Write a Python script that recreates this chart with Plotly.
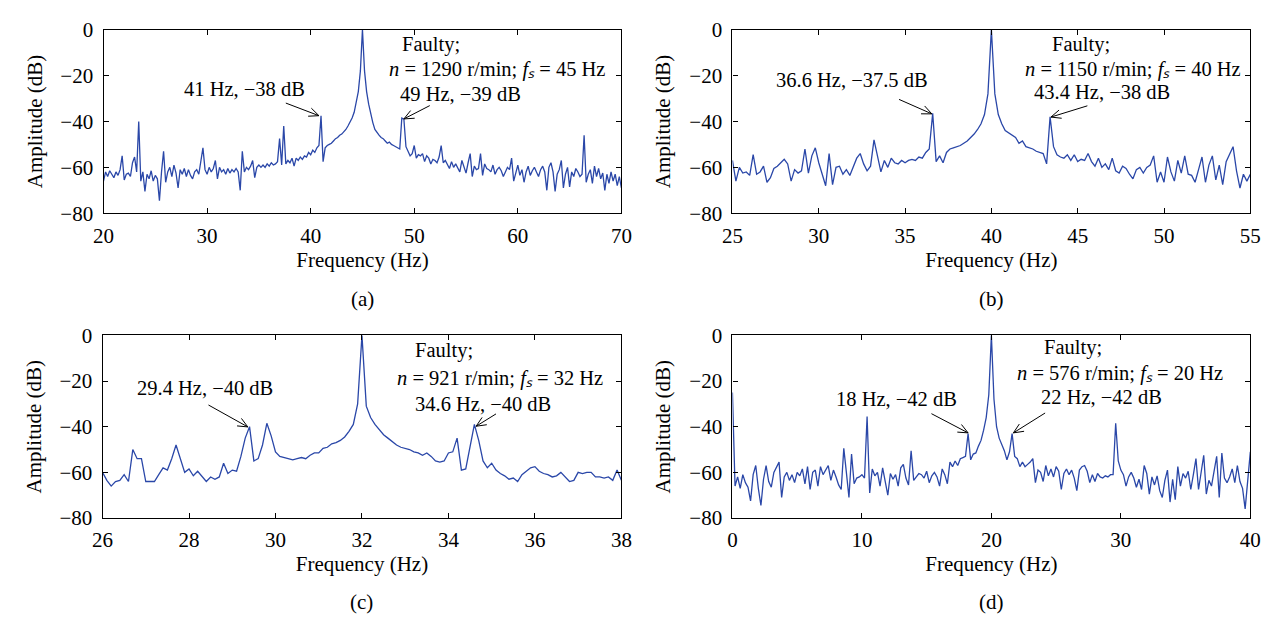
import math
import plotly.graph_objects as go

FONT = "Liberation Serif"
LINE_COLOR = "#2a47a8"
W, H = 1272, 623

# ---------------- data ----------------
# (a) fs = 45 Hz, bins from 20 Hz every 0.2 Hz
a_f0, a_df = 20.0, 0.2
a_amp = [
    -66, -62, -64, -61.5, -63, -64.5, -62, -63.5, -61, -55,
    -65.5, -63, -62.5, -64, -58, -55.5, -62, -40, -66, -62,
    -70.5, -63, -65, -61.5, -66, -63.5, -65, -74.5, -62, -53,
    -66.5, -62, -60, -64, -59, -62.5, -69, -61, -63, -60.5,
    -64, -61, -63.5, -65, -62, -61, -63, -58, -51.5, -61,
    -63, -60, -62, -60.5, -57, -65, -60, -62, -61, -63,
    -60.5, -62.5, -61, -62, -60.5, -62, -70, -53, -62, -60,
    -61, -59.5, -57, -64.5, -60, -59, -60, -59, -60, -58.5,
    -59.5, -58, -59, -58.5, -57.5, -47.5, -59, -42, -58.5, -57,
    -58, -56, -59.5, -56, -57, -55.5, -56.5, -55, -55.5, -53.5,
    -54.5, -52.5, -53.5, -51.5, -50.5, -37.5, -57.5, -51.5, -50.5, -50,
    -49.5, -48.5, -47.5, -47, -46, -45.5, -44.5, -43.5, -42, -40.5,
    -38.5, -36, -32, -27, -18, 0, -18, -27, -32.5, -37,
    -40.5, -43.5, -45, -46, -47, -47.5, -48.5, -49.5, -49, -50,
    -50.5, -51, -51.5, -52, -38.5, -39, -51, -53, -55, -54,
    -50.5, -56, -54.5, -55, -54, -57.5, -55, -56, -58.5, -56.5,
    -57, -58, -55.5, -50.5, -58, -57, -59, -60.5, -57.5, -60,
    -58.5, -60, -62, -57, -60, -62.5, -58, -54, -64, -59.5,
    -61, -60.5, -54, -63.5, -58.5, -60.5, -61, -62, -59, -63,
    -61, -60, -61.5, -64, -62, -60, -61, -56, -66, -62,
    -59, -63.5, -61, -66.5, -62, -59.5, -63.5, -61.5, -60, -62,
    -64, -61, -59.5, -62, -70, -60, -58, -62, -70.5, -63,
    -61, -57, -69, -63, -60, -68.5, -62, -64, -60.5, -62,
    -64, -63, -46, -66.5, -63, -61, -67, -59.5, -64, -60.5,
    -65, -62.5, -70, -63, -67, -62, -66, -63, -68, -64,
    -69,
]

# (b) fs = 40 Hz, bins from 25 Hz every 0.2 Hz
b_f0, b_df = 25.0, 0.2
b_amp = [
    -57, -66, -60, -62.5, -62, -63.5, -54.5, -63, -62, -59.5,
    -66.5, -64.5, -60.5, -59.5, -58, -56.5, -58.5, -66, -61, -62.5,
    -61.5, -52, -62.5, -55, -51.5, -58, -63, -68, -54, -67.5,
    -60, -59.5, -63, -61, -63.5, -59.5, -56, -54, -58.5, -61.5,
    -59.5, -48, -55.5, -62, -57, -60, -56, -58, -58.5, -57,
    -58, -57, -56.5, -57, -55.5, -56, -53.5, -52, -36.5, -57.5,
    -55, -58, -53.5, -52, -51.5, -51, -50.5, -49.5, -48.5, -47,
    -45.5, -43.5, -41, -37, -28, 0, -28, -37, -41, -44,
    -45, -46, -47, -49.5, -48.5, -51, -51.5, -52, -53, -53.5,
    -54, -58.5, -38, -51, -54.5, -55.5, -56, -54.5, -57, -54.5,
    -57.5, -56.5, -57, -54, -57.5, -59.5, -56, -60, -58.5, -61,
    -56, -61.5, -62.5, -59.5, -60.5, -63, -65, -61, -60, -62.5,
    -60, -59, -55, -66.5, -62, -66.5, -55.5, -62, -66, -57,
    -62.5, -55, -63, -63.5, -66.5, -61, -55.5, -66.5, -59, -55,
    -65.5, -59, -67.5, -57.5, -54, -51, -61.5, -69, -63, -66,
    -63,
]

# (c) fs = 32 Hz, bins from 26 Hz every 0.1 Hz
c_f0, c_df = 26.0, 0.1
c_amp = [
    -60, -63.5, -66, -64, -63.5, -61, -64, -50, -54, -54,
    -64, -64, -64, -61, -58, -59, -54, -48, -54, -60,
    -58.5, -61.5, -59.5, -62, -64, -62, -63, -62, -56, -60.5,
    -59, -59.5, -53, -45, -40, -55, -54, -48, -38.5, -44,
    -51, -53, -53.5, -54, -54.5, -54, -53.5, -54, -52.5, -51.5,
    -51.5, -49.5, -49, -47.5, -47, -46, -44.5, -42, -39, -30,
    0, -31, -36, -39, -41.5, -43.5, -45, -46.5, -48, -49,
    -49.5, -50, -51, -51.5, -52.5, -51.5, -53, -55, -55.5, -55,
    -51.5, -51, -45, -59, -58.5, -48, -39, -46, -55, -58,
    -56, -59, -60.5, -61.5, -63, -62.5, -64, -61, -59.5, -58,
    -57.5, -59.5, -60.5, -61, -62, -61.5, -60, -62, -64, -63.5,
    -60, -60.5, -60, -60, -62, -62, -62.5, -62, -63.5, -59,
    -63.5,
]

# (d) fs = 20 Hz, bins from 0 Hz every 0.2 Hz
d_f0, d_df = 0.0, 0.2
d_amp = [
    -25, -66, -62, -67, -61, -64.5, -66.5, -72.5, -61, -57,
    -67, -74.5, -63, -57, -64, -66.5, -60, -57.5, -55.5, -71,
    -62, -60, -63.5, -61, -64.5, -60, -61.5, -58.5, -65, -57.5,
    -67.5, -60, -59, -66, -57.5, -61, -59, -57, -63.5, -59,
    -62, -65.5, -67.5, -49.5, -60, -71, -52, -65, -62.5, -62,
    -61, -62.5, -35.5, -69, -58.5, -61.5, -60, -66, -58, -63.5,
    -70, -60.5, -63, -61, -66, -58, -56.5, -62.5, -65.5, -50.5,
    -63.5, -62, -60.5, -61, -62.5, -59.5, -64.5, -61.5, -60, -62,
    -66, -58.5, -61, -65, -55.5, -57.5, -55, -57, -54, -53.5,
    -53, -43, -54.5, -52, -51.5, -48.5, -46, -41.5, -36, -26,
    0, -28, -40, -45, -48, -50.5, -54.5, -51, -43, -53,
    -54, -57.5, -55.5, -57.5, -56.5, -55.5, -54, -64.5, -59, -60,
    -64, -57, -61.5, -58.5, -62, -57.5, -59.5, -67.5, -60.5, -58.5,
    -61, -59, -62.5, -68, -59, -57.5, -57, -59.5, -64.5, -61,
    -64, -60.5, -62, -62.5, -61.5, -62, -61, -61, -38.5, -55,
    -59, -61, -66, -62, -60, -62.5, -66.5, -63, -67.5, -57,
    -60.5, -69.5, -62, -65.5, -61.5, -68, -71, -63.5, -59, -73,
    -63, -72, -57.5, -66, -60.5, -62.5, -59.5, -67.5, -61, -54,
    -67.5, -60.5, -52.5, -69.5, -63.5, -66, -59, -53, -71, -51.5,
    -62.5, -64.5, -62, -58.5, -64.5, -57, -64, -67, -76, -63,
    -51,
]

x_ticks_a = [20, 30, 40, 50, 60, 70]
x_ticks_b = [25, 30, 35, 40, 45, 50, 55]
x_ticks_c = [26, 28, 30, 32, 34, 36, 38]
x_ticks_d = [0, 10, 20, 30, 40]
y_ticks = [-80, -60, -40, -20, 0]
y_range = [-80, 0]
x_title = "Frequency (Hz)"
y_title = "Amplitude (dB)"

panels = [
    ("a", a_f0, a_df, a_amp, x_ticks_a, "(a)", "1290", "45"),
    ("b", b_f0, b_df, b_amp, x_ticks_b, "(b)", "1150", "40"),
    ("c", c_f0, c_df, c_amp, x_ticks_c, "(c)", "921", "32"),
    ("d", d_f0, d_df, d_amp, x_ticks_d, "(d)", "576", "20"),
]

# annotation texts: (text, x, y); None -> the operating-point line
notes = {
    "a": [("Faulty;", 51.6, -6.7), (None, 58.0, -17.5),
          ("41 Hz, \u221238 dB", 33.6, -25.9), ("49 Hz, \u221239 dB", 54.5, -28.2)],
    "b": [("Faulty;", 45.2, -6.4), (None, 48.2, -17.2),
          ("36.6 Hz, \u221237.5 dB", 31.9, -22.1), ("43.4 Hz, \u221238 dB", 46.4, -27.0)],
    "c": [("Faulty;", 33.9, -6.8), (None, 35.2, -18.8),
          ("29.4 Hz, \u221240 dB", 28.37, -23.1), ("34.6 Hz, \u221240 dB", 34.8, -29.9)],
    "d": [("Faulty;", 26.3, -5.3), (None, 29.9, -16.5),
          ("18 Hz, \u221242 dB", 12.7, -27.7), ("22 Hz, \u221242 dB", 28.5, -27.0)],
}
# arrows: (tail_x, tail_y, tip_x, tip_y) in data units
arrows = {
    "a": [(37.6, -32.0, 40.8, -37.5), (51.5, -33.1, 49.0, -38.9)],
    "b": [(34.65, -30.4, 36.55, -36.7), (45.56, -33.2, 43.45, -38.1)],
    "c": [(28.45, -30.5, 29.36, -40.1), (35.1, -34.4, 34.64, -39.8)],
    "d": [(15.37, -34.3, 18.2, -42.7), (24.15, -34.0, 21.7, -42.7)],
}

# ---------------- layout geometry (pixels) ----------------
boxes = {
    "a": (86, 613, 10, 201),
    "b": (726, 1253, 10, 201),
    "c": (85, 613, 328, 518),
    "d": (726, 1253, 328, 518),
}
label_y = {"a": 290, "b": 290, "c": 605, "d": 605}

TICK_SIZE = 21
TITLE_SIZE = 21
NOTE_SIZE = 20.5
HEAD_LEN = 11.0       # px
HEAD_HALF_ANGLE = 24  # degrees

fig = go.Figure()
layout = dict(
    width=W, height=H,
    margin=dict(l=0, r=0, t=0, b=0),
    paper_bgcolor="white", plot_bgcolor="white",
    showlegend=False,
    font=dict(family=FONT, size=TITLE_SIZE, color="black"),
)
annotations = []
shapes = []

for idx, (key, f0, df, amp, ticks, plabel, speed, fs) in enumerate(panels, start=1):
    xs = [round(f0 + df * i, 4) for i in range(len(amp))]
    sfx = "" if idx == 1 else str(idx)
    xa, ya = "x" + sfx, "y" + sfx
    fig.add_trace(go.Scatter(x=xs, y=amp, mode="lines", xaxis=xa, yaxis=ya,
                             line=dict(color=LINE_COLOR, width=1.3),
                             hoverinfo="skip"))
    l, r, t, b = boxes[key]
    common = dict(showline=True, linecolor="black", linewidth=1.2, mirror="ticks",
                  ticks="inside", ticklen=5, tickwidth=1, tickcolor="black",
                  showgrid=False, zeroline=False,
                  tickfont=dict(family=FONT, size=TICK_SIZE, color="black"))
    layout["xaxis" + sfx] = dict(domain=[l / W, r / W], anchor=ya,
                                 range=[ticks[0], ticks[-1]], tickvals=ticks,
                                 ticklabelstandoff=3,
                                 title=dict(text=x_title, standoff=3,
                                            font=dict(family=FONT, size=TITLE_SIZE)),
                                 **common)
    layout["yaxis" + sfx] = dict(domain=[1 - b / H, 1 - t / H], anchor=xa,
                                 range=y_range, tickvals=y_ticks,
                                 ticklabelstandoff=5,
                                 title=dict(text=y_title, standoff=12,
                                            font=dict(family=FONT, size=TITLE_SIZE)),
                                 **common)
    cx = (l + r) / 2 / W
    annotations.append(dict(text=plabel, xref="paper", yref="paper",
                            x=cx, y=1 - label_y[key] / H, showarrow=False,
                            xanchor="center", yanchor="middle",
                            font=dict(family=FONT, size=TITLE_SIZE)))
    info = ("<i>n</i> = " + speed + " r/min; <i>f\u209b</i> = " + fs + " Hz")
    for txt, x, y in notes[key]:
        annotations.append(dict(text=txt if txt is not None else info,
                                xref=xa, yref=ya, x=x, y=y, showarrow=False,
                                xanchor="center", yanchor="middle",
                                font=dict(family=FONT, size=NOTE_SIZE)))
    # arrows drawn as shapes: shaft + open V head (computed in pixel space)
    sx = (r - l) / (ticks[-1] - ticks[0])           # px per Hz
    sy = (b - t) / (y_range[1] - y_range[0])        # px per dB
    for tx, ty, hx, hy in arrows[key]:
        shapes.append(dict(type="line", xref=xa, yref=ya, x0=tx, y0=ty, x1=hx, y1=hy,
                           line=dict(color="black", width=1)))
        dxp, dyp = (tx - hx) * sx, (ty - hy) * sy
        ang = math.atan2(dyp, dxp)
        pts = []
        for s in (1, -1):
            a2 = ang + s * math.radians(HEAD_HALF_ANGLE)
            pts.append((hx + HEAD_LEN * math.cos(a2) / sx,
                        hy + HEAD_LEN * math.sin(a2) / sy))
        path = "M {:.4f},{:.4f} L {:.4f},{:.4f} L {:.4f},{:.4f}".format(
            pts[0][0], pts[0][1], hx, hy, pts[1][0], pts[1][1])
        shapes.append(dict(type="path", xref=xa, yref=ya, path=path,
                           line=dict(color="black", width=1)))

layout["annotations"] = annotations
layout["shapes"] = shapes
fig.update_layout(**layout)
fig.write_html("out.html")
